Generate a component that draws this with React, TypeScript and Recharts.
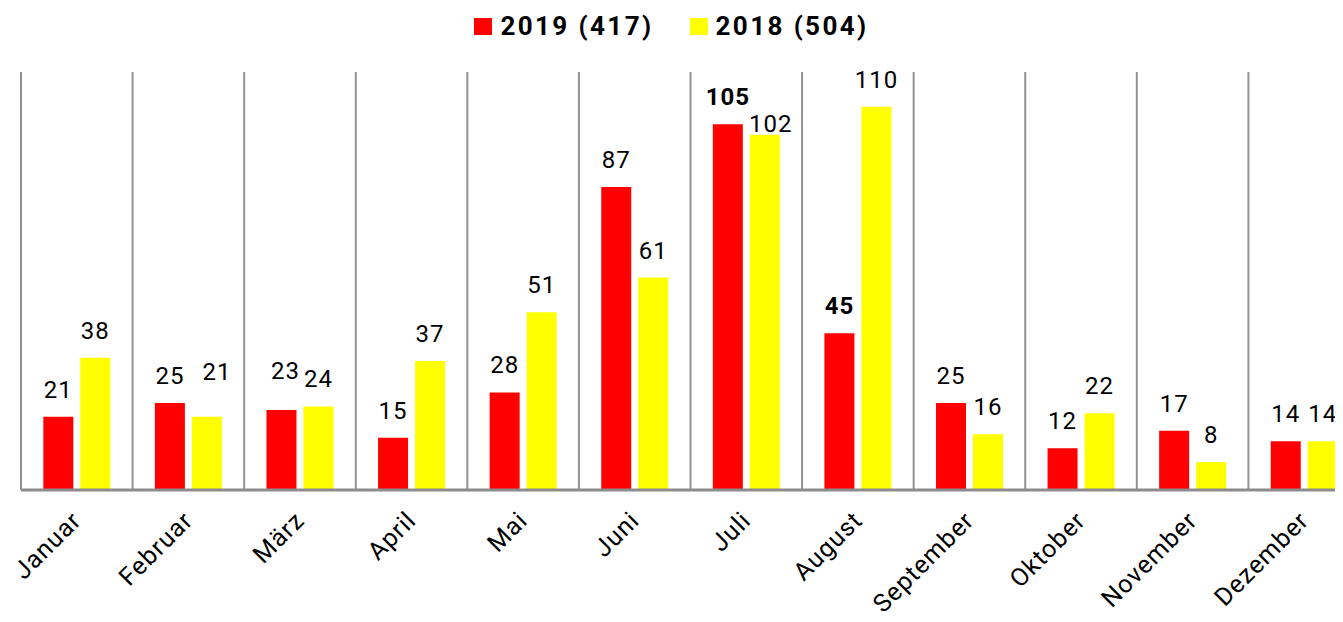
import React from 'react'
import { Bar, BarChart, CartesianGrid, LabelList, Legend, XAxis, YAxis } from 'recharts'

const months = ['Januar', 'Februar', 'März', 'April', 'Mai', 'Juni', 'Juli', 'August', 'September', 'Oktober', 'November', 'Dezember']
const values2019 = [21, 25, 23, 15, 28, 87, 105, 45, 25, 12, 17, 14]
const values2018 = [38, 21, 24, 37, 51, 61, 102, 110, 16, 22, 8, 14]
const seriesOrder = ['2019 (417)', '2018 (504)']
const bold2019 = [6, 7]
const bold2018: number[] = []

// labels that were moved by hand in the original: index -> [dx, dy]
const shift2019: Record<number, [number, number]> = { 2: [4, -12] }
const shift2018: Record<number, [number, number]> = { 1: [10, -18], 6: [6, 16] }

const data = months.map((m, i) => ({ month: m, y2019: values2019[i], y2018: values2018[i] }))

const FONT = 'Roboto, Arial, sans-serif'

const makeLabel = (bold: number[], shift: Record<number, [number, number]>) => (props: any) => {
  const { x, y, width, value, index } = props
  const [dx, dy] = shift[index] ?? [0, 0]
  return (
    <text x={Number(x) + Number(width) / 2 + dx} y={Number(y) - 19 + dy} textAnchor="middle"
      fontSize={24} letterSpacing={1} fontFamily={FONT} fontWeight={bold.includes(index) ? 700 : 400} fill="#000">
      {value}
    </text>
  )
}

const MonthTick = (props: any) => {
  const { x, y, payload } = props
  return (
    <g transform={`translate(${x + 6},${y + 30})`}>
      <text textAnchor="end" transform="rotate(-45)" fontSize={25} letterSpacing={1} fontFamily={FONT} fill="#000">
        {payload.value}
      </text>
    </g>
  )
}

const LegendContent = (props: any) => {
  const items = [...(props.payload || [])].sort(
    (a: any, b: any) => seriesOrder.indexOf(a.value) - seriesOrder.indexOf(b.value))
  return (
    <div style={{ height: 64, display: 'flex', justifyContent: 'center', gap: 36, fontFamily: FONT }}>
      {items.map((it: any) => (
        <div key={it.value} style={{ display: 'flex', alignItems: 'center', height: 36, marginTop: 0 }}>
          <span style={{ width: 18, height: 17, background: it.color, marginRight: 8, display: 'inline-block' }} />
          <span style={{ fontSize: 26, fontWeight: 700, letterSpacing: 2.4, color: '#000' }}>{it.value}</span>
        </div>
      ))}
    </div>
  )
}

export default function App() {
  return (
    <div style={{ width: 1335, overflow: 'hidden' }}>
      <BarChart width={1355} height={610} data={data} margin={{ top: 0, right: 3, left: 13, bottom: 2 }}
        barCategoryGap="20%" barGap={7}>
        <CartesianGrid horizontal={false} stroke="#929292" strokeWidth={2}
          verticalCoordinatesGenerator={({ offset }: any) =>
            months.map((_, i) => offset.left + (i * offset.width) / months.length)} />
        <XAxis dataKey="month" interval={0} height={126} tickSize={0} tickLine={false}
          axisLine={{ stroke: '#8c8c8c', strokeWidth: 3 }} tick={MonthTick} />
        <YAxis hide domain={[0, 120]} />
        <Legend verticalAlign="top" align="center" content={LegendContent} wrapperStyle={{ left: 0, width: 1327 }} />
        <Bar dataKey="y2019" name="2019 (417)" fill="#ff0000" isAnimationActive={false}>
          <LabelList dataKey="y2019" content={makeLabel(bold2019, shift2019)} />
        </Bar>
        <Bar dataKey="y2018" name="2018 (504)" fill="#ffff00" isAnimationActive={false}>
          <LabelList dataKey="y2018" content={makeLabel(bold2018, shift2018)} />
        </Bar>
      </BarChart>
    </div>
  )
}
